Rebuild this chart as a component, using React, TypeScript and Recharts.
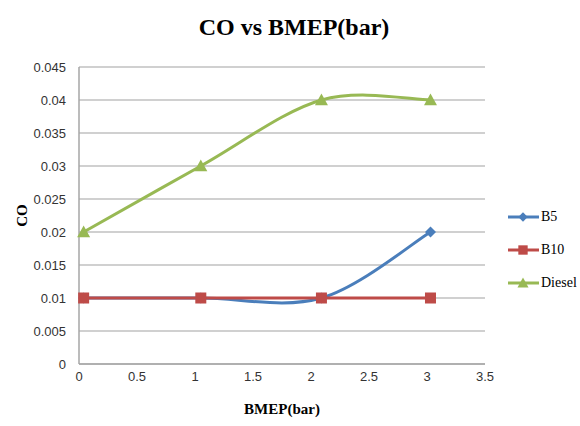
import React from 'react';
import {
  LineChart, Line, XAxis, YAxis, CartesianGrid, Legend, Label
} from 'recharts';

const bmep = [0.04, 1.05, 2.09, 3.03];
const b5 = [0.01, 0.01, 0.01, 0.02];
const b10 = [0.01, 0.01, 0.01, 0.01];
const diesel = [0.02, 0.03, 0.04, 0.04];
const xTicks = [0, 0.5, 1, 1.5, 2, 2.5, 3, 3.5];
const yTicks = [0, 0.005, 0.01, 0.015, 0.02, 0.025, 0.03, 0.035, 0.04, 0.045];
const seriesOrder = ['b5', 'b10', 'diesel'];

const data = bmep.map((x, i) => ({ x, b5: b5[i], b10: b10[i], diesel: diesel[i] }));

const BLUE = '#4A7EBB';
const RED = '#BE4B48';
const GREEN = '#98B954';

// Excel-style smoothing (Catmull-Rom through the points)
const smoothCurve = (context: any) => {
  let pts: number[][] = [];
  return {
    areaStart() {},
    areaEnd() {},
    lineStart() { pts = []; },
    lineEnd() {
      const n = pts.length;
      if (!n) return;
      context.moveTo(pts[0][0], pts[0][1]);
      for (let i = 0; i < n - 1; i++) {
        const p0 = pts[i - 1] || pts[i];
        const p1 = pts[i];
        const p2 = pts[i + 1];
        const p3 = pts[i + 2] || p2;
        context.bezierCurveTo(
          p1[0] + (p2[0] - p0[0]) / 6, p1[1] + (p2[1] - p0[1]) / 6,
          p2[0] - (p3[0] - p1[0]) / 6, p2[1] - (p3[1] - p1[1]) / 6,
          p2[0], p2[1]
        );
      }
    },
    point(x: number, y: number) { pts.push([+x, +y]); },
  };
};

const Marker = ({ shape, cx, cy, color, s = 1 }: any) => {
  if (shape === 'diamond') {
    const r = 5.5 * s;
    return <polygon points={`${cx},${cy - r} ${cx + r},${cy} ${cx},${cy + r} ${cx - r},${cy}`} fill={color} />;
  }
  if (shape === 'square') {
    const r = 5.5 * s;
    return <rect x={cx - r} y={cy - r} width={r * 2} height={r * 2} fill={color} />;
  }
  const r = 6.5 * s;
  return <polygon points={`${cx},${cy - r} ${cx + r},${cy + r * 0.8} ${cx - r},${cy + r * 0.8}`} fill={color} />;
};

const dotFor = (shape: string, color: string) => (props: any) => (
  <Marker key={`${shape}-${props.index}`} shape={shape} cx={props.cx} cy={props.cy} color={color} />
);

const shapes: Record<string, string> = { b5: 'diamond', b10: 'square', diesel: 'triangle' };

const LegendContent = ({ payload }: any) => {
  const items = [...(payload || [])].sort(
    (a: any, b: any) => seriesOrder.indexOf(a.dataKey) - seriesOrder.indexOf(b.dataKey)
  );
  return (
    <div style={{ paddingLeft: 12 }}>
      {items.map((p: any) => (
        <div key={p.dataKey} style={{ display: 'flex', alignItems: 'center', height: 33 }}>
          <svg width={34} height={16}>
            <line x1={1} y1={8} x2={32} y2={8} stroke={p.color} strokeWidth={3} />
            <Marker shape={shapes[p.dataKey]} cx={16} cy={8} color={p.color} s={0.85} />
          </svg>
          <span style={{ fontFamily: "'Liberation Serif', 'Times New Roman', serif", fontSize: 14, color: '#000' }}>{p.value}</span>
        </div>
      ))}
    </div>
  );
};

export default function App() {
  return (
    <div style={{ position: 'absolute', left: 0, top: 0, width: 580, height: 426, background: '#fff' }}>
      <div style={{
        position: 'absolute', left: 0, top: 14, width: 588, textAlign: 'center',
        fontFamily: 'Liberation Serif', fontWeight: 'bold', fontSize: 24, color: '#000'
      }}>CO vs BMEP(bar)</div>
      <LineChart width={580} height={426} data={data} margin={{ top: 67, right: 10, bottom: 12, left: 0 }}>
        <CartesianGrid vertical={false} stroke="#c0c0c0" strokeWidth={1.3} />
        <XAxis
          dataKey="x" type="number" domain={[0, 3.5]} ticks={xTicks} height={50}
          axisLine={{ stroke: '#a6a6a6', strokeWidth: 1.5 }} tickLine={false}
          tick={{ fontFamily: 'Liberation Sans', fontSize: 13, fill: '#333' }}
        >
          <Label value="BMEP(bar)" position="insideBottom" offset={0}
            style={{ fontFamily: 'Liberation Serif', fontWeight: 'bold', fontSize: 15, fill: '#000' }} />
        </XAxis>
        <YAxis
          type="number" domain={[0, 0.045]} ticks={yTicks} width={79} tickMargin={7}
          axisLine={{ stroke: '#a6a6a6', strokeWidth: 1.5 }} tickLine={false}
          tick={{ fontFamily: 'Liberation Sans', fontSize: 13, fill: '#333' }}
          label={{
            content: ({ viewBox }: any) => {
              const cy = viewBox.y + viewBox.height / 2;
              return (
                <text x={22} y={cy} transform={`rotate(-90 22 ${cy})`} textAnchor="middle" dominantBaseline="central"
                  style={{ fontFamily: 'Liberation Serif', fontWeight: 'bold', fontSize: 15, fill: '#000' }}>CO</text>
              );
            }
          }}
        />
        <Legend
          layout="vertical" align="right" verticalAlign="top" itemSorter={null as any}
          wrapperStyle={{ width: 85, top: 200, right: 0 }}
          content={<LegendContent />}
        />
        <Line dataKey="b5" name="B5" stroke={BLUE} strokeWidth={3} type={smoothCurve as any}
          dot={dotFor('diamond', BLUE)} isAnimationActive={false} />
        <Line dataKey="b10" name="B10" stroke={RED} strokeWidth={3} type={smoothCurve as any}
          dot={dotFor('square', RED)} isAnimationActive={false} />
        <Line dataKey="diesel" name="Diesel" stroke={GREEN} strokeWidth={3} type={smoothCurve as any}
          dot={dotFor('triangle', GREEN)} isAnimationActive={false} />
      </LineChart>
    </div>
  );
}
